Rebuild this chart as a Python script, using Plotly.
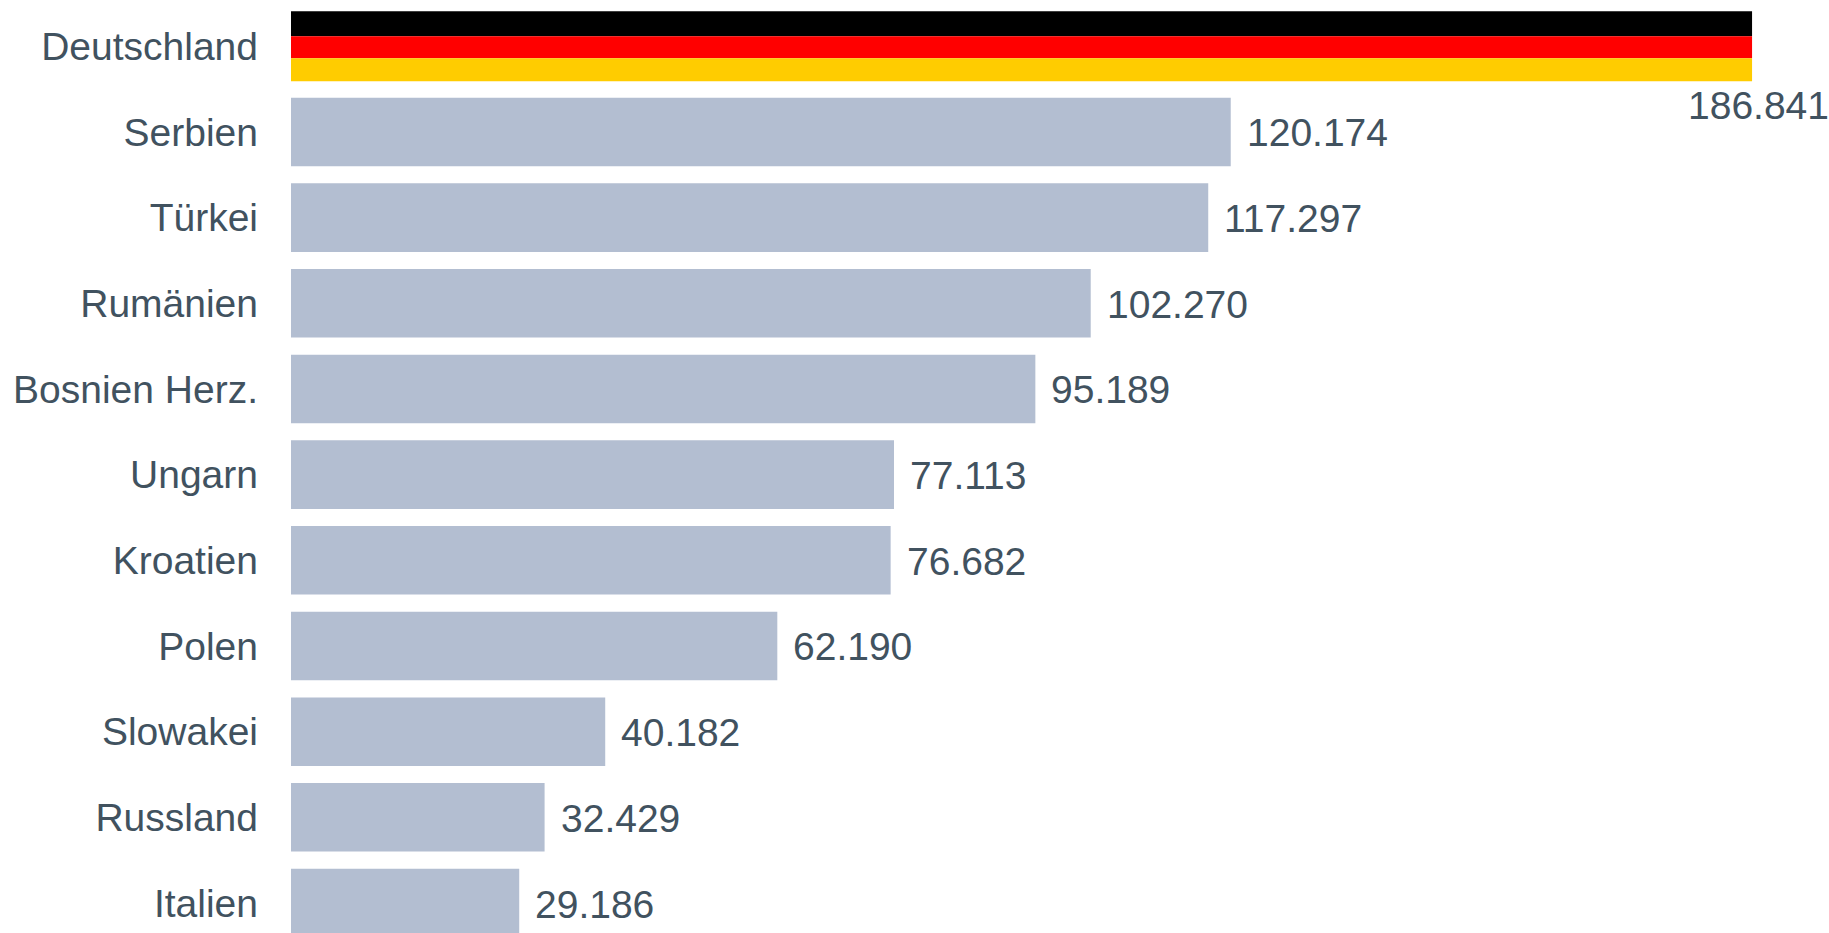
import plotly.graph_objects as go

countries = ["Deutschland", "Serbien", "Türkei", "Rumänien", "Bosnien Herz.", "Ungarn",
             "Kroatien", "Polen", "Slowakei", "Russland", "Italien"]
values = [186841, 120174, 117297, 102270, 95189, 77113, 76682, 62190, 40182, 32429, 29186]
labels = ["186.841", "120.174", "117.297", "102.270", "95.189", "77.113",
          "76.682", "62.190", "40.182", "32.429", "29.186"]

TEXT = "#41525f"
BAR = "#b3bed1"
FONT = "Liberation Sans"
SIZE = 39

fig = go.Figure()
fig.add_trace(go.Bar(y=countries[1:], x=values[1:], orientation="h", width=0.8,
                     marker=dict(color=BAR, line=dict(width=0)), hoverinfo="x+y"))
# German flag stripes on the first bar
stripes = [("#000000", -0.408, 0.292), ("#ff0000", -0.116, 0.257), ("#ffcc00", 0.141, 0.268)]
for colour, off, w in stripes:
    fig.add_trace(go.Bar(y=countries[:1], x=values[:1], orientation="h", width=[w], offset=[off],
                         marker=dict(color=colour, line=dict(width=0))))

for i, (c, v, t) in enumerate(zip(countries, values, labels)):
    first = i == 0
    fig.add_annotation(x=v, y=c, text=t, showarrow=False, xref="x", yref="y",
                       xanchor="center" if first else "left", yanchor="middle",
                       xshift=6 if first else 14, yshift=-59 if first else -1,
                       font=dict(family=FONT, size=SIZE, color=TEXT))

fig.update_layout(
    width=1829, height=933, margin=dict(l=291, r=0, t=0, b=0, pad=0, autoexpand=False),
    paper_bgcolor="white", plot_bgcolor="white", showlegend=False, barmode="overlay",
    font=dict(family=FONT, size=SIZE, color=TEXT),
)
fig.update_xaxes(range=[0, 196680], visible=False, showgrid=False, zeroline=False)
fig.update_yaxes(type="category", categoryorder="array", categoryarray=countries,
                 range=[10.35, -0.54], showgrid=False, zeroline=False, showline=False,
                 ticks="", ticklabelstandoff=32, automargin=False,
                 tickfont=dict(family=FONT, size=SIZE, color=TEXT))
fig.write_html("out.html", config={"displayModeBar": False}, post_script=(
    "document.body.style.margin='0';"
    "document.documentElement.style.overflow='hidden';"
    "document.body.style.overflow='hidden';"))
